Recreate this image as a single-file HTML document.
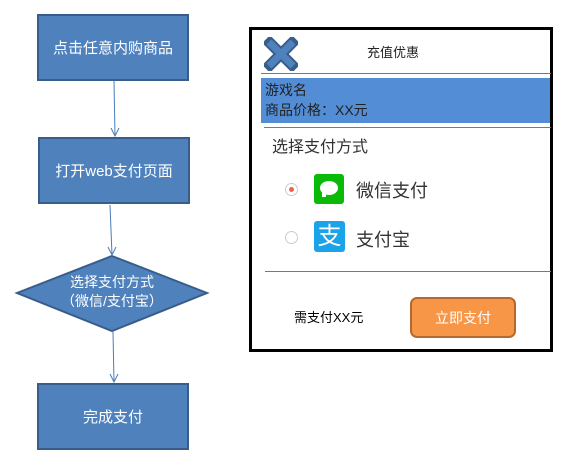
<!DOCTYPE html>
<html><head><meta charset="utf-8"><style>
body{margin:0;width:564px;height:470px;background:#fff;overflow:hidden;position:relative;font-family:"Liberation Sans","Noto Sans CJK SC",sans-serif}
.a{position:absolute}
.box{position:absolute;background:#4f81bd;border:2px solid #385d8a;box-sizing:border-box;color:#fff;font-size:15px;display:flex;align-items:center;justify-content:center}
</style></head><body>
<div class="box" style="left:37px;top:14px;width:152px;height:67px">点击任意内购商品</div>
<div class="box" style="left:38px;top:137px;width:152px;height:67px">打开web支付页面</div>
<div class="box" style="left:37px;top:383px;width:152px;height:67px">完成支付</div>
<svg class="a" style="left:0;top:0" width="564" height="470">
<polygon points="112,256 207,293 112,331 17,293" fill="#4f81bd" stroke="#385d8a" stroke-width="2"/>
<g stroke="#4a7ebb" stroke-width="1" fill="none">
<line x1="114" y1="81" x2="115" y2="136"/><polyline points="111,128 115,136 119,128"/>
<line x1="110" y1="205" x2="112" y2="255"/><polyline points="108,247 112,255 116,247"/>
<line x1="113" y1="332" x2="114" y2="382"/><polyline points="110,374 114,382 118,374"/>
</g>
<text x="112" y="287" fill="#fff" font-size="14" text-anchor="middle" font-family="Liberation Sans,Noto Sans CJK SC,sans-serif">选择支付方式</text>
<text x="112" y="306" fill="#fff" font-size="14" text-anchor="middle" font-family="Liberation Sans,Noto Sans CJK SC,sans-serif">（微信/支付宝）</text>
</svg>
<div class="a" style="left:249px;top:27px;width:304px;height:325px;border:3px solid #000;box-sizing:border-box"></div>
<svg class="a" style="left:264px;top:37px" width="34" height="34"><g stroke="#385d8a" stroke-width="11" stroke-linecap="square"><line x1="6" y1="6" x2="28" y2="28"/><line x1="28" y1="6" x2="6" y2="28"/></g><g stroke="#4f81bd" stroke-width="7"><line x1="5" y1="5" x2="29" y2="29"/><line x1="29" y1="5" x2="5" y2="29"/></g></svg>
<div class="a" style="left:367px;top:42px;font-size:13px;color:#222">充值优惠</div>
<div class="a" style="left:261px;top:73px;width:290px;height:1px;background:#4f81bd"></div>
<div class="a" style="left:261px;top:78px;width:289px;height:45px;background:#538dd5"></div>
<div class="a" style="left:265px;top:80px;font-size:14px;color:#222;line-height:20px">游戏名<br>商品价格：XX元</div>
<div class="a" style="left:264px;top:127px;width:287px;height:1px;background:#4f81bd"></div>
<div class="a" style="left:272px;top:133px;font-size:16px;color:#333">选择支付方式</div>
<div class="a" style="left:285px;top:183px;width:11px;height:11px;border:1px solid #ccc;border-radius:50%"></div>
<div class="a" style="left:289px;top:187px;width:5px;height:5px;background:#f0614a;border-radius:50%"></div>
<div class="a" style="left:285px;top:231px;width:11px;height:11px;border:1px solid #ccc;border-radius:50%"></div>
<div class="a" style="left:314px;top:174px;width:30px;height:30px;background:#09bb07;border-radius:3px"></div>
<div class="a" style="left:320px;top:181px;width:18px;height:14px;background:#fff;border-radius:50%"></div>
<div class="a" style="left:322px;top:192px;width:4px;height:5px;background:#fff"></div>
<div class="a" style="left:314px;top:221px;width:31px;height:31px;background:#1aa3e8;border-radius:3px;color:#fff;font-size:24px;line-height:31px;text-align:center">支</div>
<div class="a" style="left:356px;top:177px;font-size:18px;color:#333">微信支付</div>
<div class="a" style="left:356px;top:226px;font-size:18px;color:#333">支付宝</div>
<div class="a" style="left:265px;top:271px;width:286px;height:1px;background:#4f81bd"></div>
<div class="a" style="left:294px;top:307px;font-size:13px;color:#000">需支付XX元</div>
<div class="a" style="left:410px;top:297px;width:106px;height:41px;background:#f79646;border:2px solid #b36a30;border-radius:7px;box-sizing:border-box;color:#fff;font-size:14px;display:flex;align-items:center;justify-content:center">立即支付</div>
</body></html>
